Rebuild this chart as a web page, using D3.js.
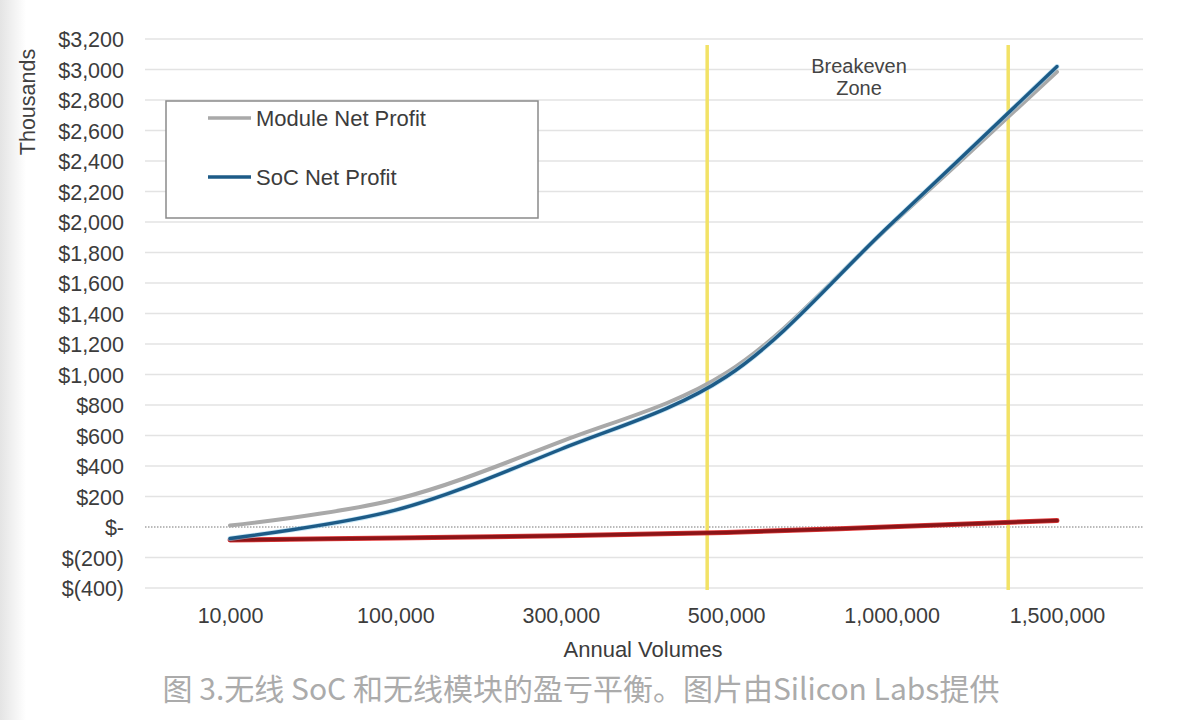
<!DOCTYPE html>
<html><head><meta charset="utf-8">
<script src="https://cdn.jsdelivr.net/npm/d3@7"></script>
<style>
html,body{margin:0;padding:0;background:#fff;}
svg{display:block;}
</style></head>
<body>
<svg id="c" width="1177" height="720"></svg>
<script>
// ---- data ----
const categories = ["10,000","100,000","300,000","500,000","1,000,000","1,500,000"];
const moduleProfit = [10, 180, 560, 1010, 1985, 2985];
const socProfit = [-75, 110, 510, 985, 1990, 3020];
const breakevenLine = [-85, -72, -57, -36, 2, 42];
const yTicks = [-400,-200,0,200,400,600,800,1000,1200,1400,1600,1800,2000,2200,2400,2600,2800,3000,3200];
const breakevenIdx = [2.885, 4.705];
const seriesNames = ["Module Net Profit","SoC Net Profit"];

const svg = d3.select("#c");
const font = "'Liberation Sans', Arial, sans-serif";

// left gray shade
const defs = svg.append("defs");
const g0 = defs.append("linearGradient").attr("id","shade").attr("x1","0").attr("x2","1");
g0.append("stop").attr("offset","0").attr("stop-color","#e4e4e4");
g0.append("stop").attr("offset","1").attr("stop-color","#ffffff");
svg.append("rect").attr("x",0).attr("y",0).attr("width",26).attr("height",720).attr("fill","url(#shade)");

const y = d3.scaleLinear().domain([-400,3200]).range([588,39]);
const xi = d3.scaleLinear().domain([0,5]).range([230,1057]);
const x = d3.scalePoint().domain(categories).range([230,1057]);
const gridX0 = 145, gridX1 = 1143;

// gridlines
svg.append("g").selectAll("line").data(yTicks.filter(d=>d!==0)).join("line")
  .attr("x1",gridX0).attr("x2",gridX1)
  .attr("y1",d=>y(d)).attr("y2",d=>y(d))
  .attr("stroke","#e3e3e3").attr("stroke-width",1.5);

// zero dotted line
svg.append("line").attr("x1",gridX0).attr("x2",gridX1).attr("y1",y(0)).attr("y2",y(0))
  .attr("stroke","#777").attr("stroke-width",1.2).attr("stroke-dasharray","1.5,1.5");

// y tick labels
const fmt = d => d===0 ? "$-" : (d<0 ? "$(" + d3.format(",")(-d) + ")" : "$" + d3.format(",")(d));
const yAxis = d3.axisLeft(y).tickValues(yTicks).tickFormat(fmt).tickSize(0).tickPadding(0);
const ya = svg.append("g").attr("transform","translate(124,0)").call(yAxis);
ya.select(".domain").remove();
ya.selectAll("text").attr("font-family",font).attr("font-size",21.5).attr("fill","#3c3c3c").attr("dy","0.35em");

// axis titles
svg.append("text").attr("transform","translate(35,102) rotate(-90)").attr("text-anchor","middle")
  .attr("font-family",font).attr("font-size",21.5).attr("fill","#404040").text("Thousands");

// x tick labels
const xAxis = d3.axisBottom(x).tickSize(0).tickPadding(0);
const xa = svg.append("g").attr("transform","translate(0,623)").call(xAxis);
xa.select(".domain").remove();
xa.selectAll("text").attr("font-family",font).attr("font-size",21.5).attr("fill","#3c3c3c").attr("dy","0");

svg.append("text").attr("x",643).attr("y",657).attr("text-anchor","middle")
  .attr("font-family",font).attr("font-size",22).attr("fill","#3c3c3c").text("Annual Volumes");

// breakeven yellow lines
svg.append("g").selectAll("line").data(breakevenIdx).join("line")
  .attr("x1",d=>xi(d)).attr("x2",d=>xi(d)).attr("y1",45).attr("y2",590)
  .attr("stroke","#f2e266").attr("stroke-width",3.5);

svg.append("text").attr("x",859).attr("y",73).attr("text-anchor","middle")
  .attr("font-family",font).attr("font-size",20).attr("fill","#444").text("Breakeven");
svg.append("text").attr("x",859).attr("y",95).attr("text-anchor","middle")
  .attr("font-family",font).attr("font-size",20).attr("fill","#444").text("Zone");

// lines
const line = d3.line().x((d,i)=>x(categories[i])).y(d=>y(d)).curve(d3.curveCatmullRom.alpha(0.5));
svg.append("path").datum(breakevenLine).attr("d",line).attr("fill","none")
  .attr("stroke","#e23a3a").attr("stroke-width",5).attr("stroke-linecap","round");
svg.append("path").datum(breakevenLine).attr("d",line).attr("fill","none")
  .attr("stroke","#8a1518").attr("stroke-width",3.5).attr("stroke-linecap","round");

svg.append("path").datum(moduleProfit).attr("d",line).attr("fill","none")
  .attr("stroke","#a9a9a9").attr("stroke-width",4).attr("stroke-linecap","round");
svg.append("path").datum(socProfit).attr("d",line).attr("fill","none")
  .attr("stroke","#9fd3ee").attr("stroke-width",5).attr("stroke-linecap","round").attr("opacity",0.6);
svg.append("path").datum(socProfit).attr("d",line).attr("fill","none")
  .attr("stroke","#1d5b87").attr("stroke-width",3.4).attr("stroke-linecap","round");

// legend
const lg = svg.append("g");
lg.append("rect").attr("x",166).attr("y",101).attr("width",372).attr("height",117)
  .attr("fill","#fff").attr("stroke","#8a8a8a").attr("stroke-width",1.5);
const legColors = ["#a9a9a9","#1d5b87"];
const legY = [118,177];
seriesNames.forEach((n,i)=>{
  lg.append("line").attr("x1",208).attr("x2",251).attr("y1",legY[i]).attr("y2",legY[i])
    .attr("stroke",legColors[i]).attr("stroke-width",3.5);
  lg.append("text").attr("x",256).attr("y",legY[i]).attr("dy","0.35em")
    .attr("font-family",font).attr("font-size",22).attr("fill","#3c3c3c").text(n);
});

// caption
svg.append("text").attr("x",581).attr("y",700).attr("text-anchor","middle")
  .attr("font-family","'Noto Sans CJK SC', 'Noto Sans', sans-serif").attr("font-size",30).attr("fill","#ababab")
  .text("图 3.无线 SoC 和无线模块的盈亏平衡。图片由Silicon Labs提供");
</script>
</body></html>
